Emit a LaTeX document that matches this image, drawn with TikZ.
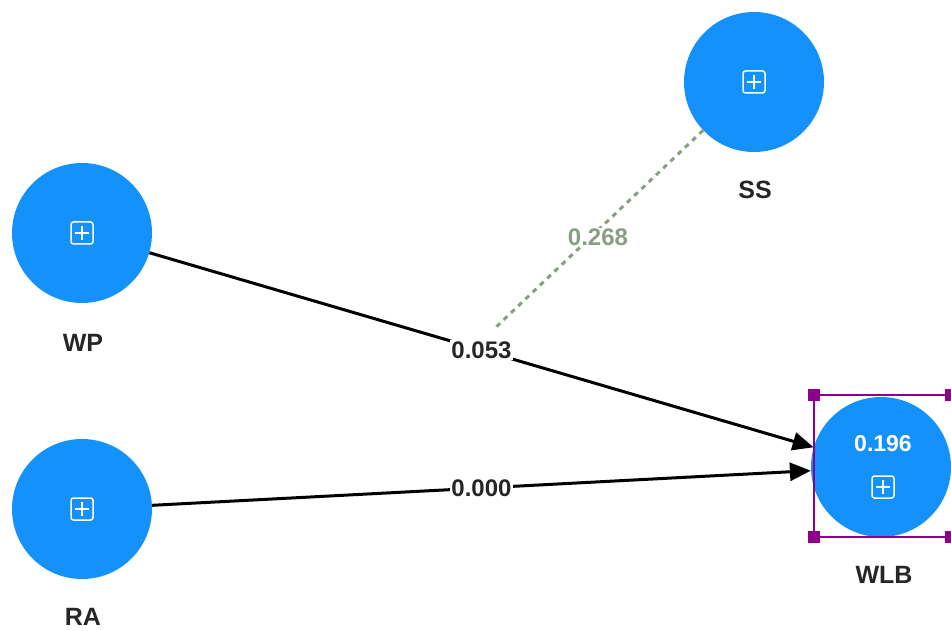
\documentclass[tikz,border=0pt]{standalone}
\usepackage{fontspec}
\setmainfont{Liberation Sans}
\usetikzlibrary{arrows.meta,calc}
\definecolor{lvblue}{RGB}{21,145,252}
\definecolor{modgreen}{RGB}{138,158,134}
\definecolor{selpurple}{RGB}{140,0,140}
\tikzset{
  lv/.style={circle,fill=lvblue,draw=none,minimum size=140pt,inner sep=0pt},
  lvname/.style={font=\fontsize{25}{28}\selectfont\bfseries,text=black!85},
  coef/.style={font=\fontsize{24}{27}\selectfont\bfseries,fill=white,inner sep=1pt,text=black!85},
  path/.style={line width=3pt,draw=black,-{Triangle[length=21pt,width=18pt]}},
  modline/.style={line width=3pt,draw=modgreen,dash pattern=on 5pt off 5pt},
  handle/.style={fill=selpurple,draw=none,minimum size=12pt,inner sep=0pt},
}
\newcommand{\plusicon}[1]{%
  \draw[white,line width=1.5pt,rounded corners=2.5pt] ($(#1)+(-11,-11)$) rectangle ($(#1)+(11,11)$);
  \draw[white,line width=1.5pt] ($(#1)+(-7,0)$) -- ($(#1)+(7,0)$) ($(#1)+(0,-7)$) -- ($(#1)+(0,7)$);}
\begin{document}
\begin{tikzpicture}[x=1pt,y=-1pt]
\useasboundingbox (0,0) rectangle (951,631);
% latent variables
\node[lv] (wp) at (82,233) {};
\node[lv] (ra) at (82,509) {};
\node[lv] (ss) at (754,82) {};
\node[lv] (wlb) at (881,467) {};
\coordinate (wpi) at (82,233);
\coordinate (rai) at (82,509);
\coordinate (ssi) at (754,82);
\coordinate (wlbi) at (883,487);
\plusicon{wpi}
\plusicon{rai}
\plusicon{ssi}
\plusicon{wlbi}
\node[font=\fontsize{23}{26}\selectfont\bfseries,text=white] (r2) at (883,444) {0.196};
% names
\node[lvname] (wpl) at (83,343) {WP};
\node[lvname] (ral) at (83,617) {RA};
\node[lvname] (ssl) at (755,190) {SS};
\node[lvname] (wlbl) at (884,575) {WLB};
% selection box
\draw[selpurple,line width=1.3pt] (814,395) -- (955,395) (814,537) -- (955,537) (814,395) -- (814,537);
\node[handle] (h1) at (814,395) {};
\node[handle] (h2) at (814,537) {};
\node[handle] (h3) at (951,395) {};
\node[handle] (h4) at (951,537) {};
% moderating effect
\coordinate (mend) at (495,328);
\draw[modline] (ss) -- (mend);
\node[coef,text=modgreen] (c268) at (598,237) {0.268};
% paths
\draw[path] (wp) -- (wlb) node[coef,pos=0.5] (c053) {0.053};
\draw[path] (ra) -- (wlb) node[coef,pos=0.5] (c000) {0.000};
\end{tikzpicture}
\end{document}
